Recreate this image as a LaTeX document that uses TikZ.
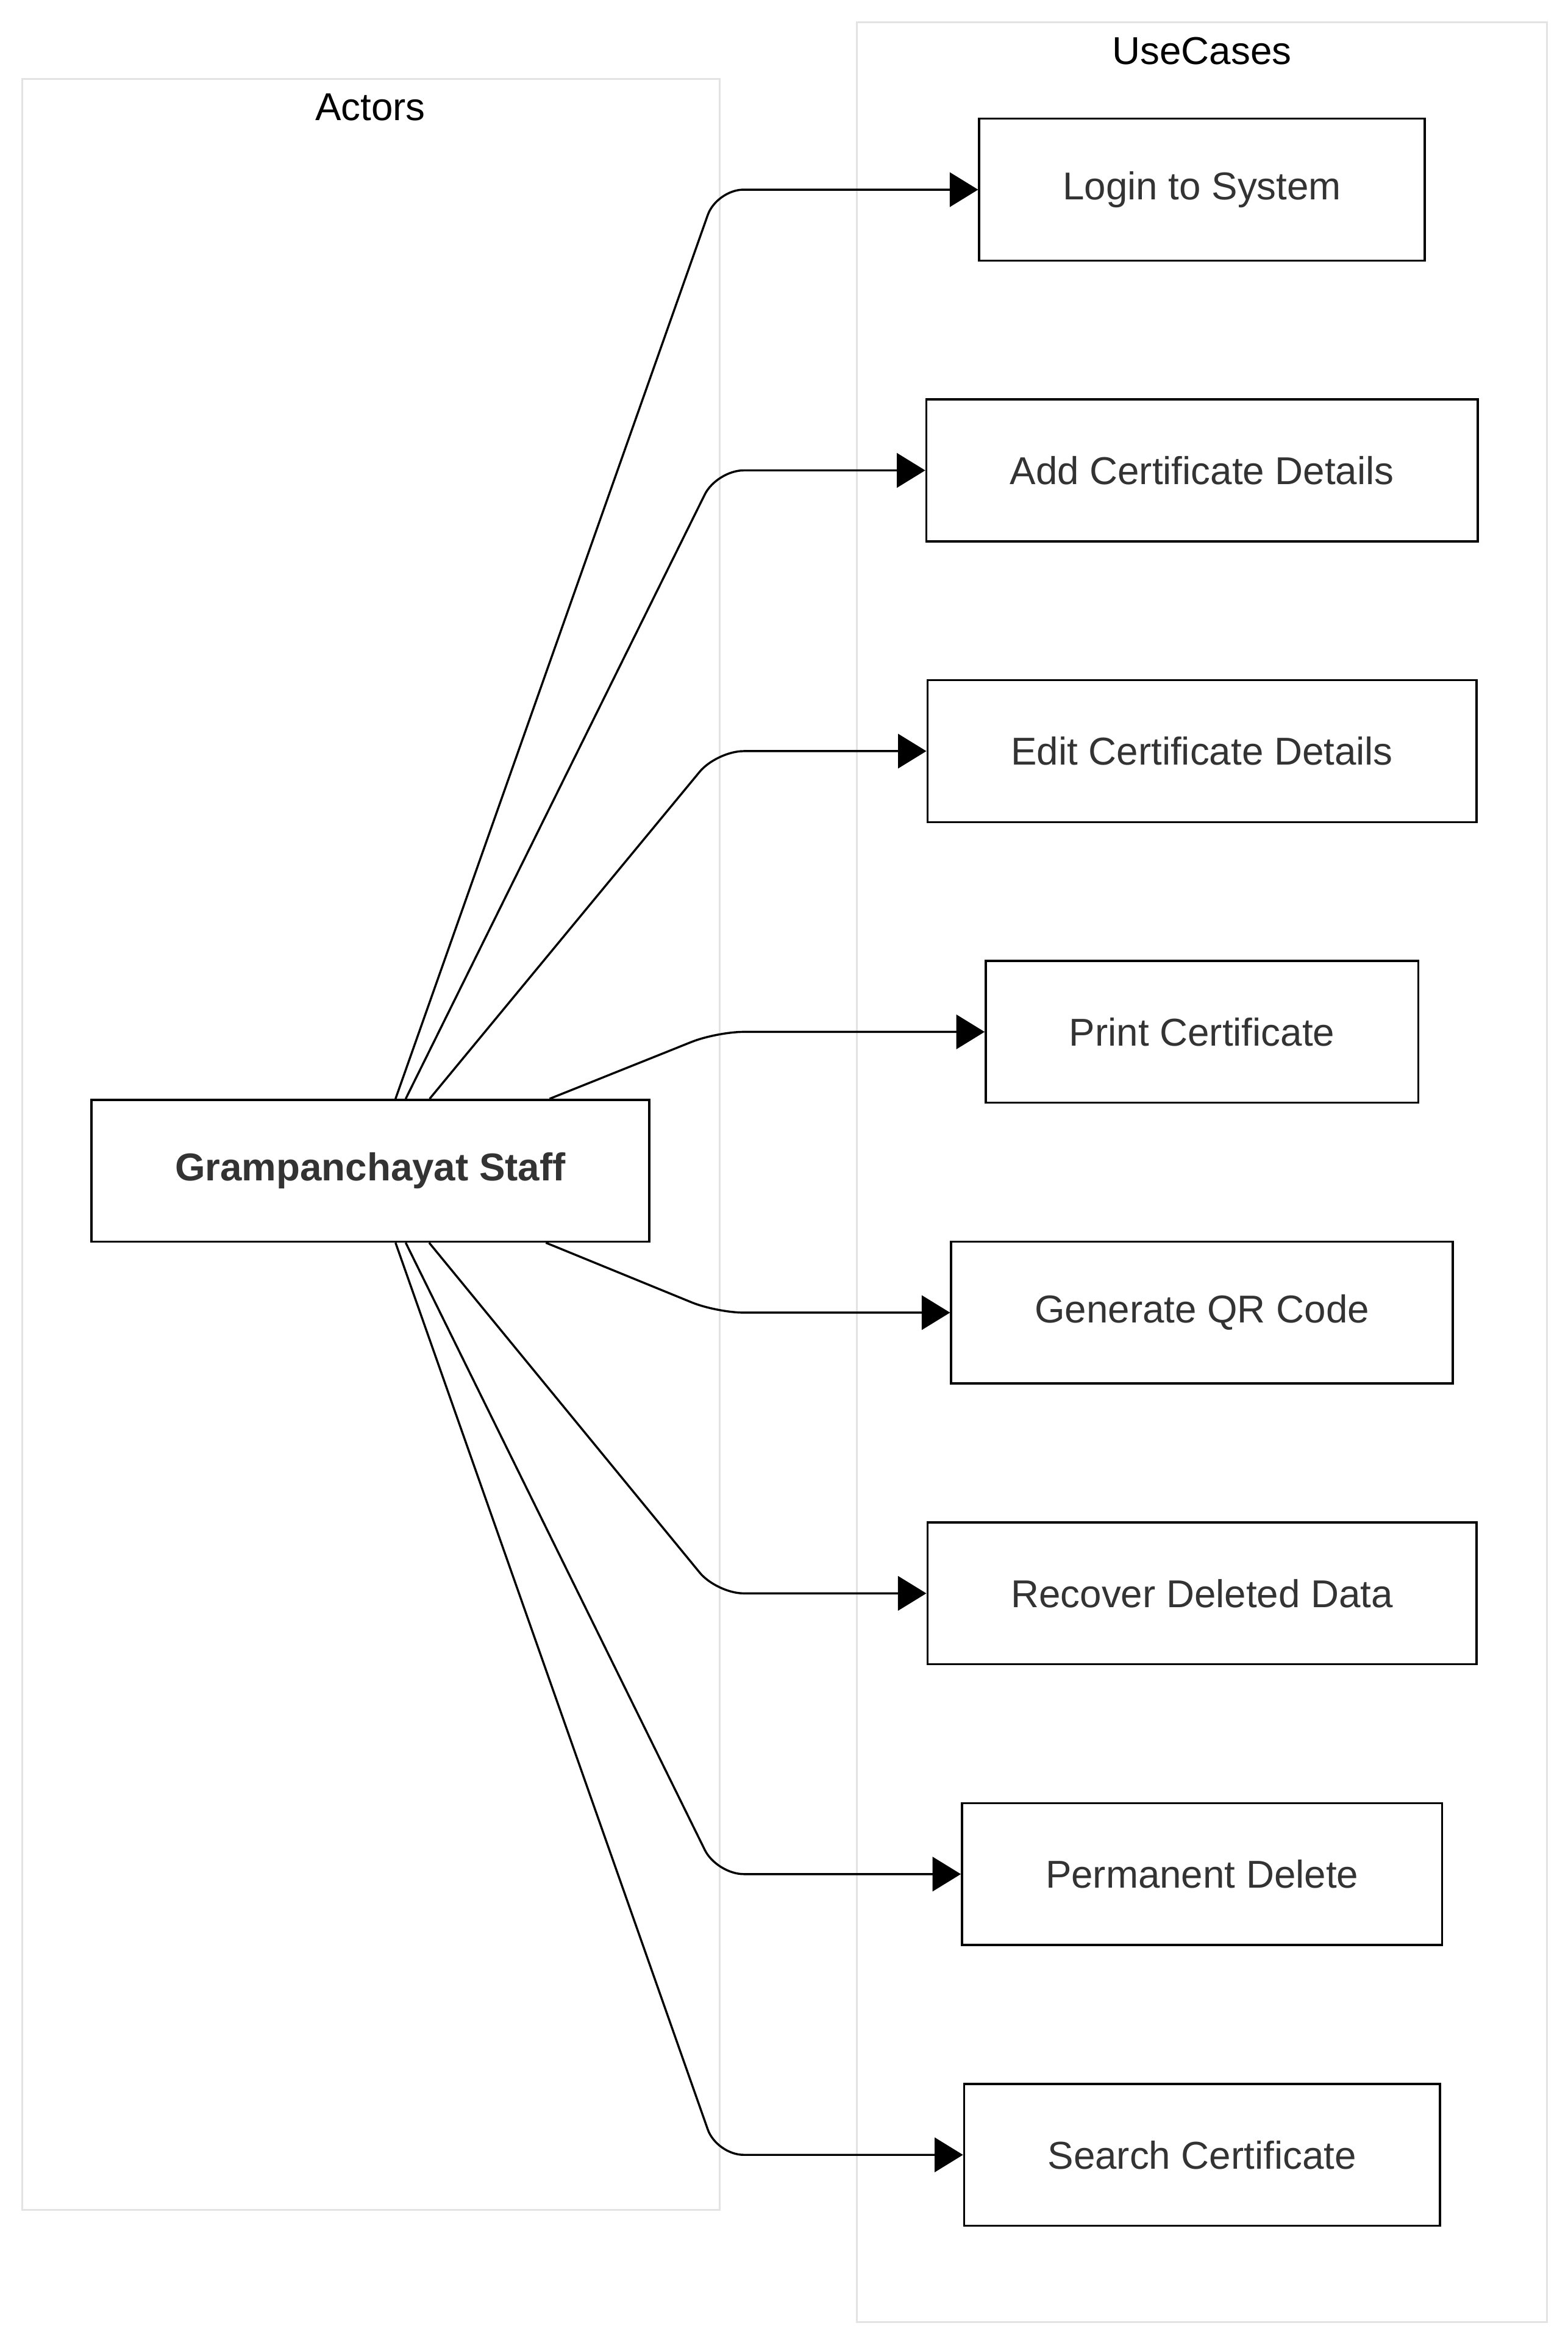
\documentclass[tikz,border=0pt]{standalone}
\usepackage{fontspec}
\setmainfont{Liberation Sans}
\usetikzlibrary{positioning}
\usetikzlibrary{arrows.meta}
\definecolor{txtgray}{HTML}{333333}
\definecolor{boxgray}{HTML}{E3E3E3}

\tikzset{
  grpbox/.style={draw=boxgray, line width=1.2pt, inner sep=0pt},
  grptitle/.style={font=\fontsize{26}{31}\selectfont, text=black},
  ucbox/.style={draw, line width=1.4pt, text=txtgray, minimum height=95pt,
    inner xsep=56pt, font=\fontsize{26}{31}\selectfont},
  actorbox/.style={ucbox, font=\fontsize{26}{31}\selectfont\bfseries},
  usearrow/.style={line width=1.4pt, rounded corners=18pt,
    -{Triangle[length=19pt,width=23pt]}}
}

\begin{document}
\begin{tikzpicture}[x=1pt,y=-1pt,node distance=91.6pt]
\useasboundingbox (0,0) rectangle (1050,1565);
% groups
\node[grpbox, minimum width=467pt, minimum height=1427pt] (actors) at (248.5,766.5) {};
\node[grpbox, minimum width=462pt, minimum height=1540pt] (usecases) at (805,785) {};
\node[grptitle] (actorstitle) at (248,72) {Actors};
\node[grptitle] (usecasestitle) at (805,34) {UseCases};

% actor
\node[actorbox] (staff) at (248,784) {Grampanchayat Staff};

% use cases
\node[ucbox] (login) at (805,127) {Login to System};
\node[ucbox, below=of login] (add) {Add Certificate Details};
\node[ucbox, below=of add] (edit) {Edit Certificate Details};
\node[ucbox, below=of edit] (print) {Print Certificate};
\node[ucbox, below=of print] (qr) {Generate QR Code};
\node[ucbox, below=of qr] (recover) {Recover Deleted Data};
\node[ucbox, below=of recover] (perm) {Permanent Delete};
\node[ucbox, below=of perm] (search) {Search Certificate};

\coordinate (bend) at (480,0);
\foreach \n in {login,add,edit,print,qr,recover,perm,search}
  \draw[usearrow] (staff) -- (\n -| bend) -- (\n);
\end{tikzpicture}
\end{document}
